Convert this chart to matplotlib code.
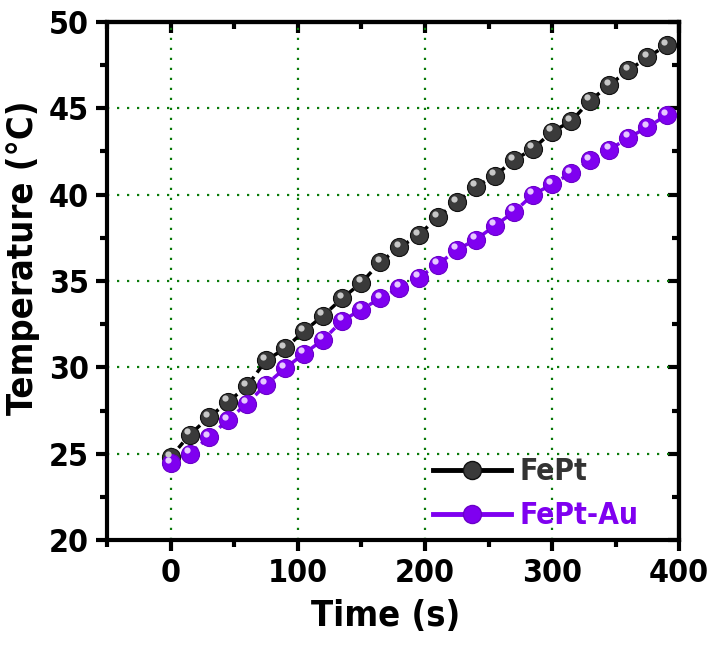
import matplotlib
matplotlib.use("Agg")
import matplotlib.pyplot as plt
import matplotlib.transforms as mtransforms
from matplotlib.lines import Line2D

time_s = [0, 15, 30, 45, 60, 75, 90, 105, 120, 135, 150, 165, 180, 195,
          210, 225, 240, 255, 270, 285, 300, 315, 330, 345, 360, 375, 390]
fept = [24.8, 26.1, 27.1, 28.0, 28.9, 30.4, 31.1, 32.1, 33.0, 34.0, 34.9, 36.1, 36.95, 37.65,
        38.7, 39.55, 40.45, 41.1, 42.0, 42.65, 43.65, 44.25, 45.45, 46.35, 47.2, 47.95, 48.65]
fept_au = [24.45, 25.0, 25.95, 26.95, 27.9, 29.0, 29.95, 30.8, 31.6, 32.7, 33.35, 34.0, 34.6, 35.2,
           35.95, 36.8, 37.4, 38.2, 39.0, 40.0, 40.6, 41.25, 42.0, 42.6, 43.3, 43.9, 44.6]

series = [("FePt", fept, "#3a3a3a", "#101010", "#c8c8c8", "#333333", "black"),
          ("FePt-Au", fept_au, "#7f00f0", "#6a00c8", "#e6c8ff", "#7f00f0", "#7f00f0")]

plt.rcParams["font.family"] = ["DejaVu Sans"]
plt.rcParams["font.stretch"] = "condensed"
plt.rcParams["font.weight"] = "bold"

fig = plt.figure(figsize=(7.09, 6.46), dpi=100)
ax = fig.add_axes([0.151, 0.164, 0.807, 0.802])

hl = mtransforms.offset_copy(ax.transData, fig=fig, x=-2.0, y=2.5, units="points")
handles = []
for name, ys, face, edge, light, tcol, lcol in series:
    ax.plot(time_s, ys, ls=(0, (2, 1.5)), color=lcol, lw=2.5,
            marker="o", ms=13, mfc=face, mec=edge, mew=0.8, zorder=3)
    ax.plot(time_s, ys, ls="none", marker="o", ms=4.5, mfc=light, mec="none",
            transform=hl, zorder=4)
    handles.append(Line2D([], [], color=lcol, lw=3.5, marker="o",
                          ms=13, mfc=face, mec=edge))

ax.set_xlim(-50, 400)
ax.set_ylim(20, 50)
ax.set_xticks([0, 100, 200, 300, 400])
ax.set_xticks([-50, 50, 150, 250, 350], minor=True)
ax.set_yticks([20, 25, 30, 35, 40, 45, 50])
ax.set_yticks([22.5, 27.5, 32.5, 37.5, 42.5, 47.5], minor=True)
ax.grid(True, which="major", color="#0a7a0a", ls=(0, (1, 3.5)), lw=1.6)
ax.set_axisbelow(True)

for s in ax.spines.values():
    s.set_linewidth(3)
ax.tick_params(which="major", direction="out", length=8, width=3, labelsize=23, pad=5)
ax.tick_params(which="minor", direction="out", length=5, width=3)

top = ax.secondary_xaxis("top")
top.set_xticks([0, 100, 200, 300, 400])
top.set_xticks([-50, 50, 150, 250, 350], minor=True)
top.tick_params(which="major", direction="in", length=8, width=3, labeltop=False)
top.tick_params(which="minor", direction="in", length=5, width=3)
right = ax.secondary_yaxis("right")
right.set_yticks([20, 25, 30, 35, 40, 45, 50])
right.set_yticks([22.5, 27.5, 32.5, 37.5, 42.5, 47.5], minor=True)
right.tick_params(which="major", direction="in", length=8, width=3, labelright=False)
right.tick_params(which="minor", direction="in", length=5, width=3)
for sa in (top, right):
    for s in sa.spines.values():
        s.set_linewidth(3)

ax.set_xlabel("Time (s)", fontsize=26, fontweight="bold")
ax.set_ylabel("Temperature (\u00b0C)", fontsize=26, fontweight="bold")
ax.xaxis.set_label_coords(0.486, -0.113)
ax.yaxis.set_label_coords(-0.118, 0.545)

leg = ax.legend(handles, [s[0] for s in series], loc="lower left", frameon=False,
                handlelength=2.6, handletextpad=0.3, labelspacing=0.5,
                bbox_to_anchor=(0.523, -0.033),
                prop={"weight": "bold", "size": 21.5})
for txt, s in zip(leg.get_texts(), series):
    txt.set_color(s[5])

fig.savefig("out.png", dpi=100)
